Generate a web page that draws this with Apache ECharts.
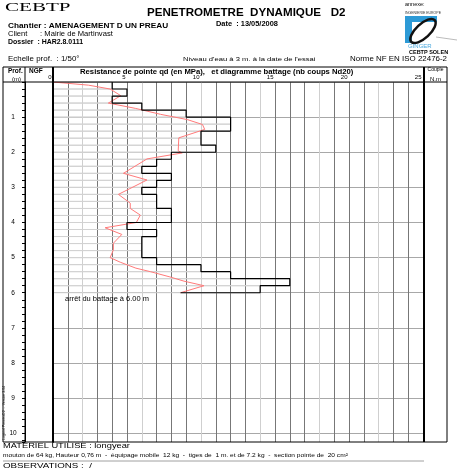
<!DOCTYPE html>
<html><head><meta charset="utf-8">
<script src="https://cdn.jsdelivr.net/npm/echarts@6/dist/echarts.min.js"></script>
<style>html,body{margin:0;padding:0;background:#fff}#c{width:458px;height:468px}</style>
</head><body><div id="c"></div>
<script>
// ---- data ----
const xTickLabels = [0, 5, 10, 15, 20, 25];
const depthTickLabels = [1, 2, 3, 4, 5, 6, 7, 8, 9, 10];
// Nd20 blow counts per 20 cm
const nd20Top    = [0.0,0.2,0.4,0.6,0.8,1.0,1.2,1.4,1.6,1.8,2.0,2.2,2.4,2.6,2.8,3.0,3.2,3.4,3.6,3.8,4.0,4.2,4.4,4.6,4.8,5.0,5.2,5.4,5.6,5.8];
const nd20Bottom = [0.2,0.4,0.6,0.8,1.0,1.2,1.4,1.6,1.8,2.0,2.2,2.4,2.6,2.8,3.0,3.2,3.4,3.6,3.8,4.0,4.2,4.4,4.6,4.8,5.0,5.2,5.4,5.6,5.8,6.0];
const nd20Values = [4,5,4,6,9,12,12,10,10,11,8,7,6,8,7,6,7,7,8,8,5,7,6,6,6,7,10,12,16,14];
// qd (MPa) curve
const qdDepth = [0,0.09,0.2,0.39,0.6,0.75,0.92,1.07,1.21,1.35,1.4,1.59,1.96,2.02,2.19,2.6,2.79,3.2,3.45,3.6,3.79,4.0,4.15,4.34,4.59,4.78,5.0,5.13,5.3,5.4,5.55,5.67,5.8,6.0];
const qdValue = [0,2.4,3.86,4.58,3.74,5.56,7.26,9.07,10.1,10.25,10.16,8.5,8.46,8.73,6.35,4.76,6.35,4.42,5.22,5.22,5.9,5.63,3.52,4.65,4.08,4.08,3.86,4.54,5.6,6.58,7.9,8.85,10.2,8.62];

// ---- build series data ----
const barData = nd20Values.map((v, i) => [v, nd20Top[i], nd20Bottom[i]]);
const stepData = [];
nd20Values.forEach((v, i) => { stepData.push([v, nd20Top[i]]); stepData.push([v, nd20Bottom[i]]); });
stepData.push([qdValue[qdValue.length - 1], nd20Bottom[nd20Bottom.length - 1]]);
const qdData = qdDepth.map((d, i) => [qdValue[i], d]);

const FF = '"Liberation Sans", Arial, sans-serif';
function txt(x, y, text, size, opts) {
  opts = opts || {};
  return Object.assign({
    type: 'text', x: x, y: y, silent: true, z: 100, scaleX: opts.sx || 1,
    style: { text: text, font: (opts.bold ? 'bold ' : '') + size + 'px ' + (opts.family || FF),
      fill: opts.fill || '#000', textAlign: opts.align || 'left', textVerticalAlign: 'middle' }
  }, opts.extra || {});
}
function ln(x1, y1, x2, y2, w, c) {
  return { type: 'line', silent: true, z: 100, shape: { x1: x1, y1: y1, x2: x2, y2: y2 },
    style: { stroke: c || '#000', lineWidth: w || 1 } };
}

const chart = echarts.init(document.getElementById('c'), null, { renderer: 'canvas' });
chart.setOption({
  animation: false,
  backgroundColor: '#fff',
  grid: { left: 53, top: 82, width: 370, height: 360, outerBoundsMode: 'none', containLabel: false },
  xAxis: {
    type: 'value', position: 'top', min: 0, max: 25, interval: 1,
    axisLine: { show: false, onZero: false }, axisTick: { show: false },
    axisLabel: { fontSize: 6, margin: 2, color: '#000', align: 'right', fontFamily: FF, showMinLabel: true, showMaxLabel: true,
      padding: [0, 1.5, 0, 0], hideOverlap: false,
      formatter: v => xTickLabels.indexOf(v) >= 0 ? String(v) : '' },
    splitLine: { show: true, lineStyle: { color: ['#777', '#777', '#cfcfcf', '#777'], width: 1 } }
  },
  yAxis: [
    {
      type: 'value', inverse: true, min: 0, max: 10.25, interval: 0.2, position: 'left', offset: 28,
      axisLine: { show: true, onZero: false, lineStyle: { color: '#000', width: 1 } },
      axisTick: { show: true, length: 3, lineStyle: { color: '#000' } },
      axisLabel: { fontSize: 6.5, margin: 12, align: 'center', color: '#000', fontFamily: FF,
        formatter: v => { const r = Math.round(v); return (Math.abs(v - r) < 1e-6 && depthTickLabels.indexOf(r) >= 0) ? String(r) : ''; } },
      splitLine: { show: false }
    },
    {
      type: 'value', inverse: true, min: 0, max: 10.25, interval: 1, position: 'left', offset: 0,
      axisLine: { show: true, onZero: false, lineStyle: { color: '#000', width: 2 } },
      axisTick: { show: false }, axisLabel: { show: false },
      splitLine: { show: true, showMaxLine: false, lineStyle: { color: '#a8a8a8', width: 1 } }
    }
  ],
  series: [
    {
      type: 'custom', yAxisIndex: 1, z: 2, silent: true,
      encode: { x: 0, y: [1, 2] },
      data: barData,
      renderItem: (params, api) => {
        const p0 = api.coord([0, api.value(1)]);
        const p1 = api.coord([api.value(0), api.value(2)]);
        return { type: 'rect', shape: { x: p0[0], y: p0[1], width: p1[0] - p0[0], height: p1[1] - p0[1] },
          style: { fill: 'none', stroke: '#d2d2d2', lineWidth: 1 } };
      }
    },
    {
      type: 'line', yAxisIndex: 1, z: 3, data: qdData, showSymbol: false, symbol: 'none', silent: true,
      lineStyle: { color: '#ff7a7a', width: 1 }
    },
    {
      type: 'line', yAxisIndex: 1, z: 4, data: stepData, showSymbol: false, symbol: 'none', silent: true,
      lineStyle: { color: '#000', width: 1.2 }
    }
  ],
  graphic: { elements: [
    // header
    txt(5, 7.5, 'CEBTP', 13, { family: '"Liberation Serif", "Times New Roman", serif', sx: 1.62 }),
    txt(147, 13.5, 'PENETROMETRE  DYNAMIQUE   D2', 10, { bold: true, sx: 1.16 }),
    txt(8, 26, 'Chantier : AMENAGEMENT D UN PREAU', 7, { bold: true, sx: 1.18 }),
    txt(216, 24.5, 'Date  : 13/05/2008', 6.3, { bold: true, sx: 1.18 }),
    txt(8, 34, 'Client      : Mairie de Martinvast', 6.5, { sx: 1.17 }),
    txt(8, 42.7, 'Dossier  : HAR2.8.0111', 6.5, { bold: true, sx: 1.07 }),
    txt(8, 59, 'Echelle prof.  : 1/50°', 6.5, { sx: 1.22 }),
    txt(183, 59, "Niveau d'eau à 3 m. à la date de l'essai", 6, { sx: 1.27 }),
    txt(447, 59, 'Norme NF EN ISO 22476-2', 6.5, { align: 'right', sx: 1.22 }),
    // logo
    txt(405, 5, 'annexe:', 5, { sx: 1.1 }),
    txt(405, 13, 'INGENIERIE EUROPE', 3.5, { fill: '#333' }),
    { type: 'rect', silent: true, shape: { x: 405, y: 16, width: 32, height: 27 }, style: { fill: '#2d9ad6' } },
    { type: 'rect', silent: true, shape: { x: 412, y: 22, width: 25, height: 21 }, style: { fill: '#ffffff' } },
    { type: 'ellipse', silent: true, x: 423, y: 31, rotation: 0.75, shape: { cx: 0, cy: 0, rx: 16, ry: 7 },
      style: { fill: 'none', stroke: '#111', lineWidth: 2.5 } },
    ln(436, 37, 457, 40, 0.5, '#777'),
    txt(408, 46.5, 'GINGER', 5, { fill: '#4aa8dd', sx: 1.2 }),
    txt(409, 52, 'CEBTP SOLEN', 5.5, { bold: true }),
    // table header
    txt(8, 71.5, 'Prof.', 6.5, { bold: true }),
    txt(12, 79.5, '(m)', 6),
    txt(29, 71.5, 'NGF', 6.5, { bold: true }),
    txt(80, 71.7, 'Resistance de pointe qd (en MPa),   et diagramme battage (nb coups Nd20)', 7, { bold: true, sx: 1.1 }),
    txt(435.5, 70, 'Couple', 5, { align: 'center' }),
    txt(435.5, 79, 'N.m', 6, { align: 'center' }),
    // table borders
    ln(3, 67, 447, 67, 1), ln(3, 82, 447, 82, 1), ln(3, 442, 447, 442, 1),
    ln(3, 67, 3, 442, 1), ln(447, 67, 447, 442, 1),
    ln(25, 67, 25, 442, 1), ln(53, 67, 53, 442, 2), ln(424, 67, 424, 442, 2),
    // annotation
    txt(65, 299, 'arrêt du battage à 6.00 m', 6.8, { sx: 1.1 }),
    // side text
    txt(4.5, 440, 'Logiciel PenetroD2  -  Version 3.04', 3.5, { extra: { rotation: Math.PI / 2 } }),
    // footer
    txt(3, 445.7, 'MATERIEL UTILISE : longyear', 7.5, { sx: 1.24 }),
    txt(3, 455.7, 'mouton de 64 kg, Hauteur 0,76 m  -  équipage mobile  12 kg  -  tiges de  1 m. et de 7.2 kg  -  section pointe de  20 cm²', 5.5, { sx: 1.2 }),
    ln(3, 461, 424, 461, 0.8, '#888'),
    txt(3, 466, 'OBSERVATIONS :  /', 7.5, { sx: 1.3 })
  ] }
});
</script></body></html>
